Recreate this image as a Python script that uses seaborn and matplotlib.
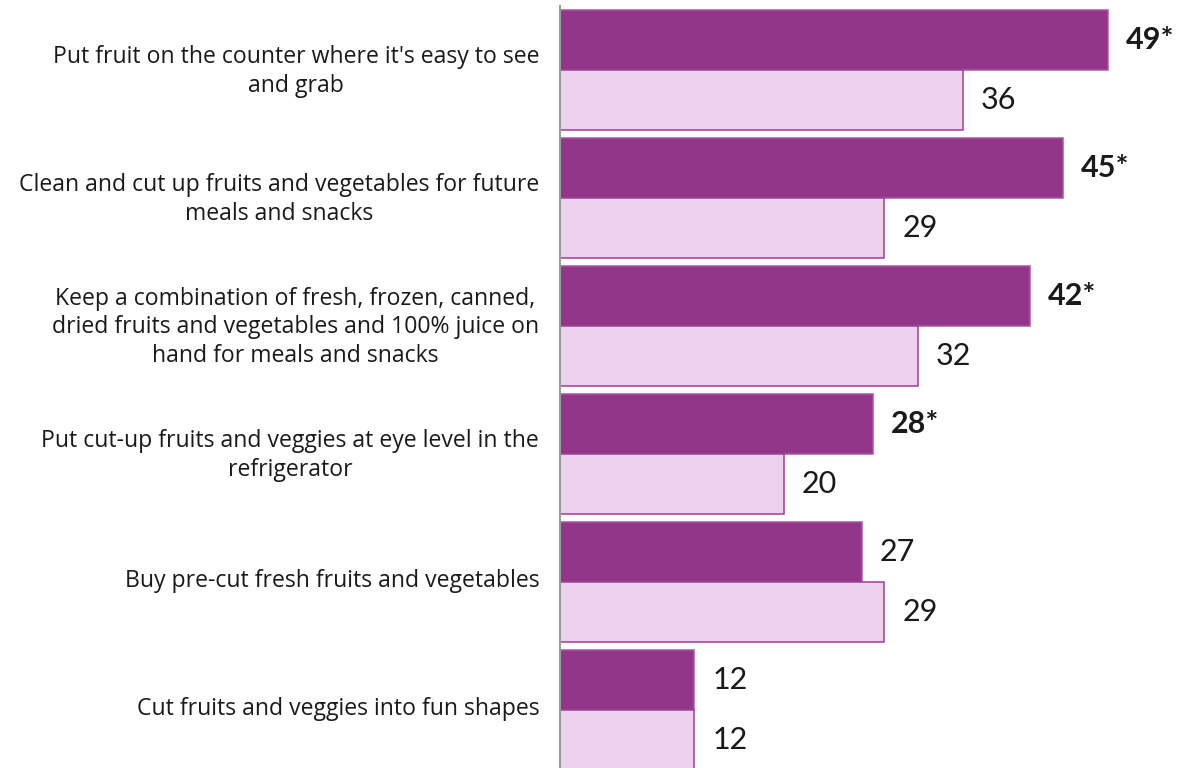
import matplotlib
matplotlib.use("Agg")
import matplotlib.pyplot as plt
import matplotlib.transforms as mtransforms
import seaborn as sns
import pandas as pd

categories = [
    "Put fruit on the counter where it's easy to see\nand grab",
    "Clean and cut up fruits and vegetables for future\nmeals and snacks",
    "Keep a combination of fresh, frozen, canned,\ndried fruits and vegetables and 100% juice on\nhand for meals and snacks",
    "Put cut-up fruits and veggies at eye level in the\nrefrigerator",
    "Buy pre-cut fresh fruits and vegetables",
    "Cut fruits and veggies into fun shapes",
]
series_names = ["Group 1", "Group 2"]
values_1 = [49, 45, 42, 28, 27, 12]
values_2 = [36, 29, 32, 20, 29, 12]
labels_1 = ["49*", "45*", "42*", "28*", "27", "12"]
labels_2 = ["36", "29", "32", "20", "29", "12"]

df = pd.DataFrame({
    "category": categories * 2,
    "series": [series_names[0]] * 6 + [series_names[1]] * 6,
    "value": values_1 + values_2,
})

sns.set_theme(style="white")
plt.rcParams["font.family"] = ["Lato", "DejaVu Sans"]

fig = plt.figure(figsize=(11.77, 7.68), dpi=100)
W, H = 1177, 768
left_px, right_px = 560, 1175
top_px, bottom_px = 6, 774
ax = fig.add_axes([left_px / W, (H - bottom_px) / H, (right_px - left_px) / W, (bottom_px - top_px) / H])

dark = "#923689"
light = "#edd1ec"
sns.barplot(data=df, y="category", x="value", hue="series", order=categories,
            hue_order=series_names, palette=[dark, light], width=0.9375,
            orient="h", ax=ax, legend=False, saturation=1)

edge_colors = ["#a857a1", "#9a3f93"]
for cont, ec in zip(ax.containers, edge_colors):
    for p in cont:
        p.set_edgecolor(ec)
        p.set_linewidth(1.1)

xmax = (right_px - left_px) / ((1108 - 560) / 49)
ax.set_xlim(0, xmax)
ax.set_ylim(5.5, -0.5)

for cont, labs in zip(ax.containers, [labels_1, labels_2]):
    texts = ax.bar_label(cont, labels=labs, padding=13, fontsize=22, color="#1a1a1a")
    for t, lab in zip(texts, labs):
        if lab.endswith("*"):
            t.set_fontweight("bold")

ax.set_xlabel("")
ax.set_ylabel("")
ax.set_xticks([])
ax.tick_params(axis="y", length=0, pad=15, labelcolor="#1a1a1a")
shift = mtransforms.ScaledTranslation(0, 4 / 100, fig.dpi_scale_trans)
for t in ax.get_yticklabels():
    t.set_multialignment("center")
    t.set_fontfamily(["Open Sans", "DejaVu Sans"])
    t.set_fontsize(16.6)
    t.set_linespacing(1.25)
    t.set_transform(t.get_transform() + shift)

for s in ["top", "right", "bottom"]:
    ax.spines[s].set_visible(False)
ax.spines["left"].set_color("#9a9a9a")
ax.spines["left"].set_linewidth(1.5)

fig.savefig("out.png", dpi=100)
